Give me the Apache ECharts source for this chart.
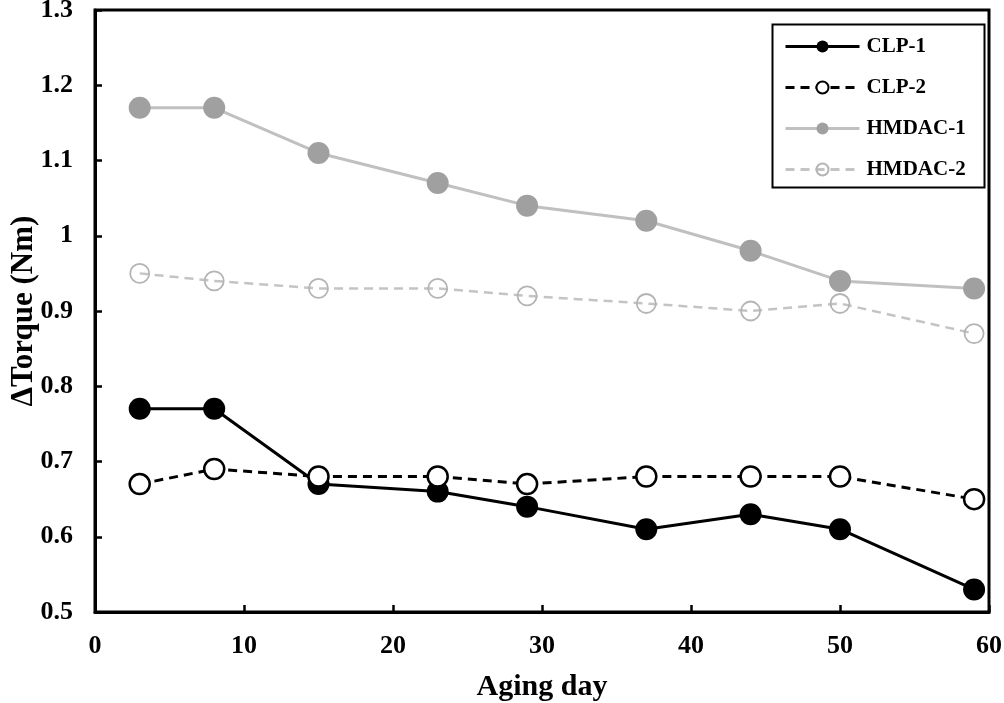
<!DOCTYPE html>
<html>
<head>
<meta charset="utf-8">
<script src="https://cdn.jsdelivr.net/npm/echarts@6/dist/echarts.min.js"></script>
<style>
html,body{margin:0;padding:0;background:#fff;}
#chart{width:1004px;height:703px;}
</style>
</head>
<body>
<div id="chart"></div>
<script>
// Data
const days = [3, 8, 15, 23, 29, 37, 44, 50, 59];
const clp1 = [0.77, 0.77, 0.67, 0.66, 0.64, 0.61, 0.63, 0.61, 0.53];
const clp2 = [0.67, 0.69, 0.68, 0.68, 0.67, 0.68, 0.68, 0.68, 0.65];
const hmdac1 = [1.17, 1.17, 1.11, 1.07, 1.04, 1.02, 0.98, 0.94, 0.93];
const hmdac2 = [0.95, 0.94, 0.93, 0.93, 0.92, 0.91, 0.90, 0.91, 0.87];
const seriesNames = ['CLP-1', 'CLP-2', 'HMDAC-1', 'HMDAC-2'];
const xTitle = 'Aging day';
const yTitle = 'ΔTorque (Nm)';

const pair = (ys) => days.map((d, i) => [d, ys[i]]);
const FONT = '"Liberation Serif", "Times New Roman", serif';

const chart = echarts.init(document.getElementById('chart'), null, {renderer: 'canvas'});
chart.setOption({
  backgroundColor: '#ffffff',
  animation: false,
  grid: {
    left: 95, right: 15, top: 10, bottom: 91,
    show: true, borderColor: '#000', borderWidth: 3,
    containLabel: false, outerBoundsMode: 'none'
  },
  xAxis: {
    type: 'value', min: 0, max: 60, interval: 10,
    name: xTitle, nameLocation: 'middle', nameGap: 60, nameMoveOverlap: false,
    nameTextStyle: {fontFamily: FONT, fontWeight: 'bold', fontSize: 30, color: '#000'},
    axisLine: {show: true, lineStyle: {color: '#000', width: 3}},
    axisTick: {show: true, inside: true, length: 7, lineStyle: {color: '#000', width: 2.5}},
    axisLabel: {fontFamily: FONT, fontWeight: 'bold', fontSize: 26, color: '#000', margin: 21},
    splitLine: {show: false}
  },
  yAxis: {
    type: 'value', min: 0.5, max: 1.3, interval: 0.1,
    name: yTitle, nameLocation: 'middle', nameGap: 56, nameMoveOverlap: false,
    nameTextStyle: {fontFamily: FONT, fontWeight: 'bold', fontSize: 31, color: '#000'},
    axisLine: {show: true, lineStyle: {color: '#000', width: 3}},
    axisTick: {show: true, inside: true, length: 7, lineStyle: {color: '#000', width: 2.5}},
    axisLabel: {fontFamily: FONT, fontWeight: 'bold', fontSize: 26, color: '#000', margin: 22,
      formatter: (v) => String(Math.round(v * 10) / 10)},
    splitLine: {show: false}
  },
  legend: {
    orient: 'vertical', left: 779, top: 31,
    itemWidth: 74, itemHeight: 15, itemGap: 20,
    lineStyle: {width: 3},
    textStyle: {fontFamily: FONT, fontWeight: 'bold', fontSize: 21, color: '#000', padding: [0, 0, 0, 2]},
    data: seriesNames
  },
  graphic: [{
    type: 'rect', left: 770, top: 22, z: 100,
    shape: {width: 212, height: 163},
    style: {fill: 'none', stroke: '#000', lineWidth: 2}
  }],
  series: [
    {
      name: seriesNames[0], type: 'line', data: pair(clp1),
      symbol: 'circle', symbolSize: 22, z: 4,
      lineStyle: {color: '#000', width: 3, type: 'solid'},
      itemStyle: {color: '#000', borderColor: '#000', borderWidth: 0}
    },
    {
      name: seriesNames[1], type: 'line', data: pair(clp2),
      symbol: 'circle', symbolSize: 20, z: 5,
      lineStyle: {color: '#000', width: 3, type: [9, 6]},
      itemStyle: {color: '#fff', borderColor: '#000', borderWidth: 2.5}
    },
    {
      name: seriesNames[2], type: 'line', data: pair(hmdac1),
      symbol: 'circle', symbolSize: 22, z: 3,
      lineStyle: {color: '#c0c0c0', width: 3, type: 'solid'},
      itemStyle: {color: '#a0a0a0', borderColor: '#a0a0a0', borderWidth: 0}
    },
    {
      name: seriesNames[3], type: 'line', data: pair(hmdac2),
      symbol: 'circle', symbolSize: 19, z: 2,
      lineStyle: {color: '#c4c4c4', width: 2.5, type: [9, 6]},
      itemStyle: {color: 'rgba(255,255,255,0)', borderColor: '#b4b4b4', borderWidth: 1.8}
    }
  ]
});
</script>
</body>
</html>
